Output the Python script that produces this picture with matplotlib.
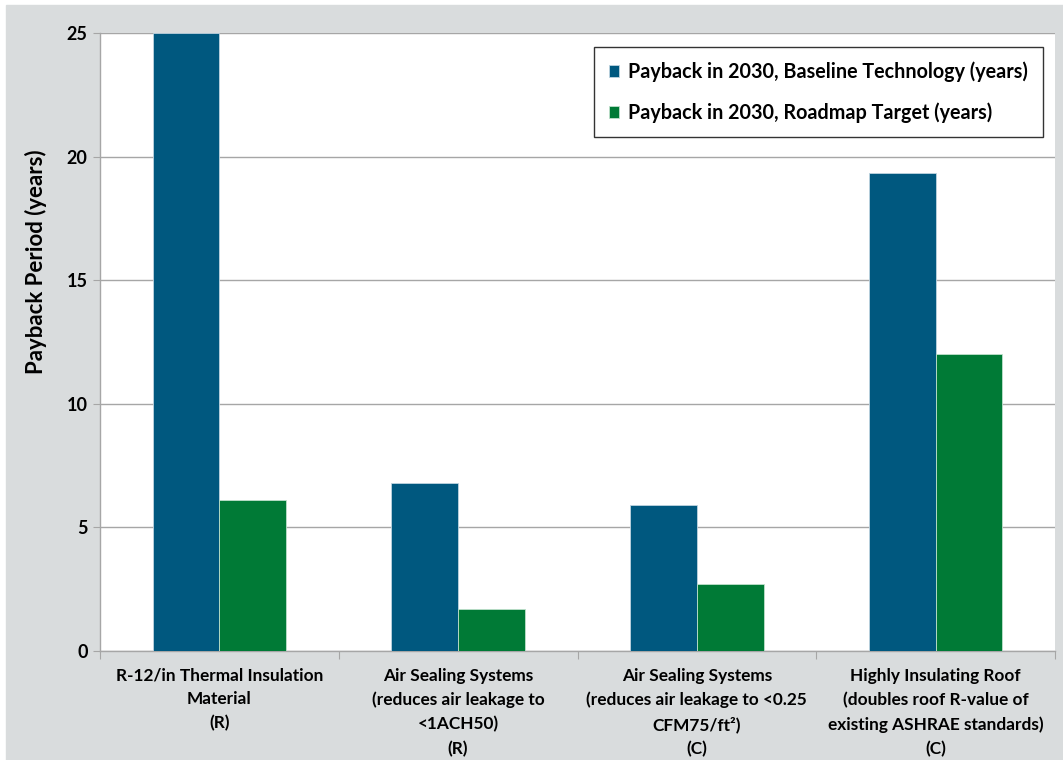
import numpy as np
import matplotlib
matplotlib.use("Agg")
import matplotlib.pyplot as plt
from matplotlib.patches import Rectangle

categories = [
    "R-12/in Thermal Insulation\nMaterial\n(R)",
    "Air Sealing Systems\n(reduces air leakage to\n<1ACH50)\n(R)",
    "Air Sealing Systems\n(reduces air leakage to <0.25\nCFM75/ft\u00b2)\n(C)",
    "Highly Insulating Roof\n(doubles roof R-value of\nexisting ASHRAE standards)\n(C)",
]
baseline = [25.0, 6.8, 5.9, 19.35]
target = [6.1, 1.7, 2.7, 12.0]
series_names = ["Payback in 2030, Baseline Technology (years)",
                "Payback in 2030, Roadmap Target (years)"]
yticks = [0, 5, 10, 15, 20, 25]

blue = "#00587F"
green = "#007A36"
grey_bg = "#D9DCDD"

plt.rcParams['font.family'] = ['Lato', 'DejaVu Sans']
plt.rcParams['font.weight'] = 'bold'

fig = plt.figure(figsize=(10.63, 7.6), dpi=100)
fig.patches.append(Rectangle((6 / 1063, 0), 1 - 6 / 1063, 1 - 5 / 760,
                             transform=fig.transFigure, color=grey_bg, zorder=-10))
ax = fig.add_axes([100 / 1063, 1 - 651 / 760, 955 / 1063, 618 / 760])
ax.set_facecolor("white")

x = np.arange(len(categories))
w = 0.28
ax.bar(x - w / 2, baseline, w, color=blue, edgecolor="#BFD4E0", linewidth=0.6,
       label=series_names[0], zorder=3)
ax.bar(x + w / 2, target, w, color=green, edgecolor="#BFE0CC", linewidth=0.6,
       label=series_names[1], zorder=3)

ax.set_xlim(-0.5, len(categories) - 0.5)
ax.set_ylim(0, 25)
ax.set_yticks(yticks)
ax.set_yticklabels([str(t) for t in yticks], fontsize=13, fontweight='bold')
ax.yaxis.grid(True, color="#A6A6A6", linewidth=1.0, zorder=0)

ax.set_xticks(np.arange(-0.5, len(categories), 1.0))
ax.set_xticklabels([])
ax.set_xticks(x, minor=True)
ax.set_xticklabels(categories, minor=True, fontsize=12.4, fontweight='bold',
                   linespacing=1.6)
ax.tick_params(axis='x', which='minor', length=0, pad=12)
ax.tick_params(axis='x', which='major', length=6, color="#A6A6A6")
ax.tick_params(axis='y', length=5, color="#A6A6A6", pad=4)

for s in ["top", "right"]:
    ax.spines[s].set_visible(False)
for s in ["left", "bottom"]:
    ax.spines[s].set_color("#A6A6A6")
    ax.spines[s].set_linewidth(1.0)

ax.set_ylabel("Payback Period (years)", fontsize=16, fontweight='bold')
ax.yaxis.set_label_coords(-0.055, 0.63)

leg = ax.legend(loc="upper right", bbox_to_anchor=((1043 - 100) / 955, 1 - 14 / 618),
                fontsize=14.2, frameon=True, fancybox=False, edgecolor="black",
                handlelength=0.55, handleheight=0.55, handletextpad=0.45,
                labelspacing=1.0, borderpad=0.75, borderaxespad=0)
leg.get_frame().set_linewidth(1.0)
leg.set_zorder(5)

fig.savefig("out.png", dpi=100)
